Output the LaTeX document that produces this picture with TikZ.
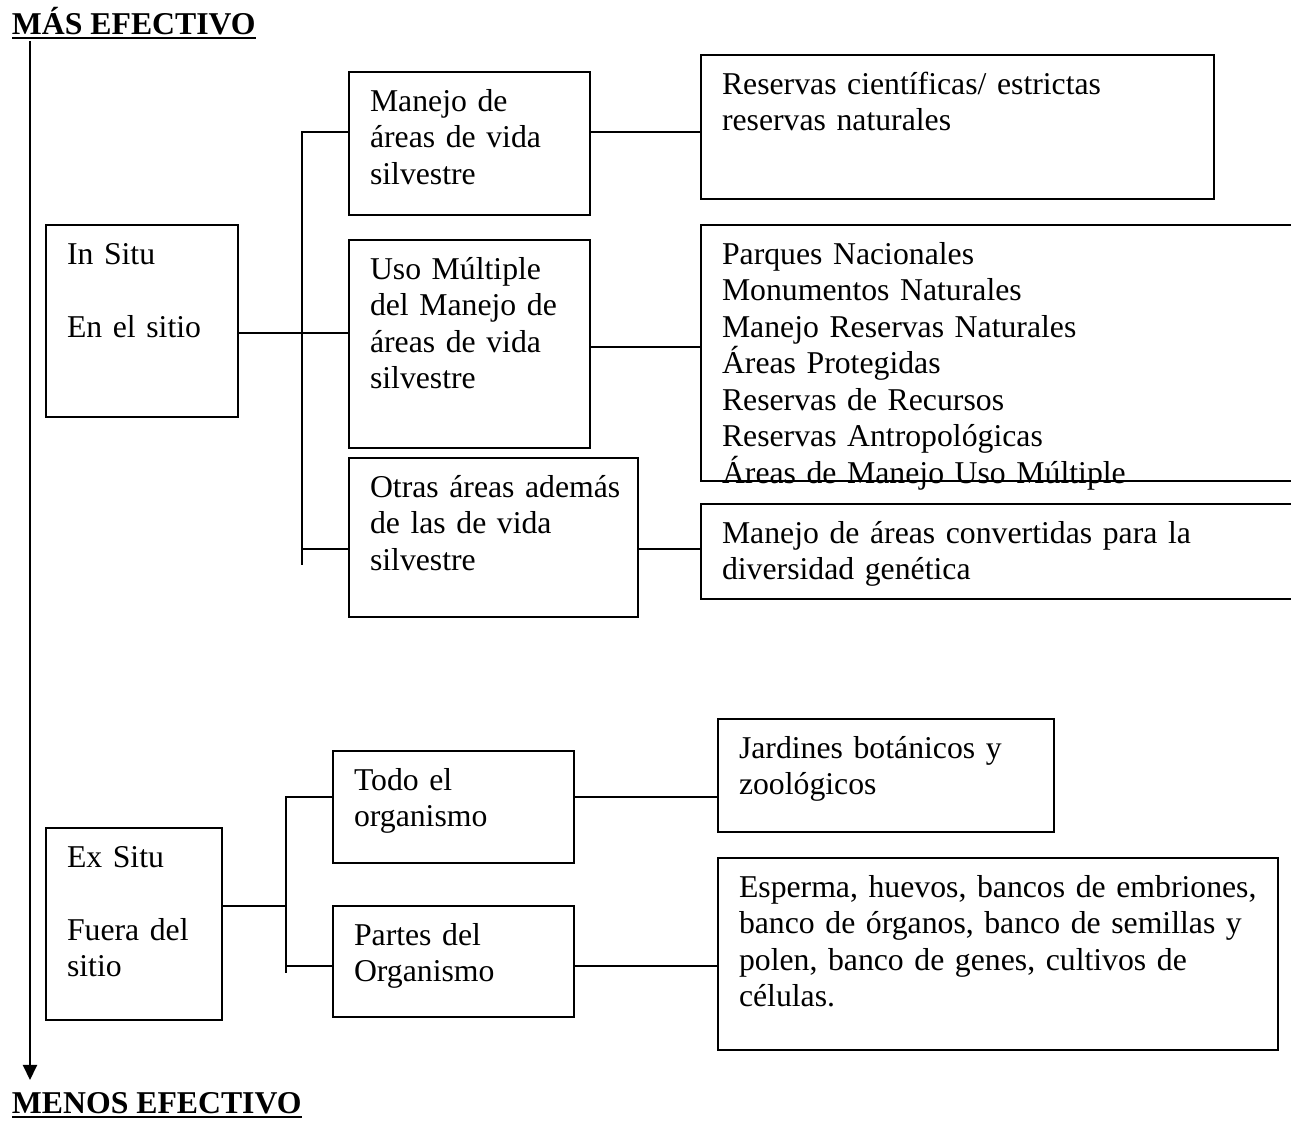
\documentclass[tikz,border=0pt]{standalone}
\usepackage{fontspec}
\setmainfont{Liberation Serif}
\usetikzlibrary{arrows.meta,calc}
\newcommand{\mybox}[5]{\node[bx,minimum width={(#4-#2)*0.378pt},minimum height={(#5-#3)*0.378pt}] (#1) at (#2,#3) {};}
\begin{document}
\begin{tikzpicture}[x=0.378pt,y=-0.378pt,
  bx/.style={draw,line width=0.75pt,inner sep=0pt,outer sep=0pt,anchor=north west},
  txt/.style={anchor=base west,inner sep=0pt,outer sep=0pt,align=left,font=\fontsize{12pt}{13.8pt}\selectfont},
  ttl/.style={anchor=base west,inner sep=0pt,outer sep=0pt,font=\fontsize{12pt}{13.8pt}\selectfont\bfseries},
  conn/.style={line width=0.75pt}]
\useasboundingbox (0,0) rectangle (1291,1120);
\clip (0,0) rectangle (1291,1120);
\fill[white] (0,0) rectangle (1291,1120);

% titles and arrow
\node[ttl] (mas) at (12,34) {MÁS EFECTIVO};
\node[ttl] (menos) at (12,1113) {MENOS EFECTIVO};
\draw[conn] ($(mas.base west)+(0,3.5)$) -- ($(mas.base east)+(0,3.5)$);
\draw[conn] ($(menos.base west)+(0,3.5)$) -- ($(menos.base east)+(0,3.5)$);
\coordinate (arrtop) at (30,41);
\coordinate (arrtip) at (30,1080);
\draw[conn,-{Triangle[length=5.7pt,width=5.3pt]}] (arrtop) -- (arrtip);

% boxes, in situ
\mybox{insitu}{46}{225}{238}{417}
\mybox{manejo}{349}{72}{590}{215}
\mybox{uso}{349}{240}{590}{448}
\mybox{otras}{349}{458}{638}{617}
\mybox{reservas}{701}{55}{1214}{199}
\mybox{parques}{701}{225}{1310}{481}
\mybox{convert}{701}{504}{1310}{599}
% boxes, ex situ
\mybox{exsitu}{46}{828}{222}{1020}
\mybox{todo}{333}{751}{574}{863}
\mybox{partes}{333}{906}{574}{1017}
\mybox{jardines}{718}{719}{1054}{832}
\mybox{esperma}{718}{858}{1278}{1050}

% texts
\node[txt,text width=62pt] (insituT) at (67,264) {In Situ\\ \mbox{}\\ En el sitio};
\node[txt,text width=81pt] (manejoT) at (370,111) {Manejo de\\áreas de vida\\silvestre};
\node[txt,text width=81pt] (usoT) at (370,279) {Uso Múltiple\\del Manejo de\\áreas de vida\\silvestre};
\node[txt,text width=99pt] (otrasT) at (370,497) {Otras áreas además\\de las de vida\\silvestre};
\node[txt,text width=184pt] (reservasT) at (722,94) {Reservas científicas/ estrictas\\reservas naturales};
\node[txt,text width=210pt] (parquesT) at (722,264) {Parques Nacionales\\Monumentos Naturales\\Manejo Reservas Naturales\\Áreas Protegidas\\Reservas de Recursos\\Reservas Antropológicas\\Áreas de Manejo Uso Múltiple};
\node[txt,text width=210pt] (convertT) at (722,543) {Manejo de áreas convertidas para la\\diversidad genética};
\node[txt,text width=56pt] (exsituT) at (67,867) {Ex Situ\\ \mbox{}\\ Fuera del\\sitio};
\node[txt,text width=81pt] (todoT) at (354,790) {Todo el\\organismo};
\node[txt,text width=81pt] (partesT) at (354,945) {Partes del\\Organismo};
\node[txt,text width=117pt] (jardinesT) at (739,758) {Jardines botánicos y\\zoológicos};
\node[txt,text width=202pt] (espermaT) at (739,897) {Esperma, huevos, bancos de embriones,\\banco de órganos, banco de semillas y\\polen, banco de genes, cultivos de\\células.};

% redraw the bottom edge of parques over its last line
\draw[conn] (parques.south west) -- (parques.south east);

% connectors, in situ
\coordinate (trunkA) at (302,565);
\coordinate (yA1) at (0,132);
\coordinate (yA2) at (0,333);
\coordinate (yA3) at (0,549);
\coordinate (yA4) at (0,347);
\draw[conn] (manejo.west |- yA1) -| (trunkA);
\draw[conn] (insitu.east |- yA2) -- (uso.west |- yA2);
\draw[conn] (trunkA |- yA3) -- (otras.west |- yA3);
\draw[conn] (manejo.east |- yA1) -- (reservas.west |- yA1);
\draw[conn] (uso.east |- yA4) -- (parques.west |- yA4);
\draw[conn] (otras.east |- yA3) -- (convert.west |- yA3);

% connectors, ex situ
\coordinate (trunkB) at (286,973);
\coordinate (yB1) at (0,797);
\coordinate (yB2) at (0,906);
\coordinate (yB3) at (0,966);
\draw[conn] (todo.west |- yB1) -| (trunkB);
\draw[conn] (exsitu.east |- yB2) -- (trunkB |- yB2);
\draw[conn] (trunkB |- yB3) -- (partes.west |- yB3);
\draw[conn] (todo.east |- yB1) -- (jardines.west |- yB1);
\draw[conn] (partes.east |- yB3) -- (esperma.west |- yB3);
\end{tikzpicture}
\end{document}
